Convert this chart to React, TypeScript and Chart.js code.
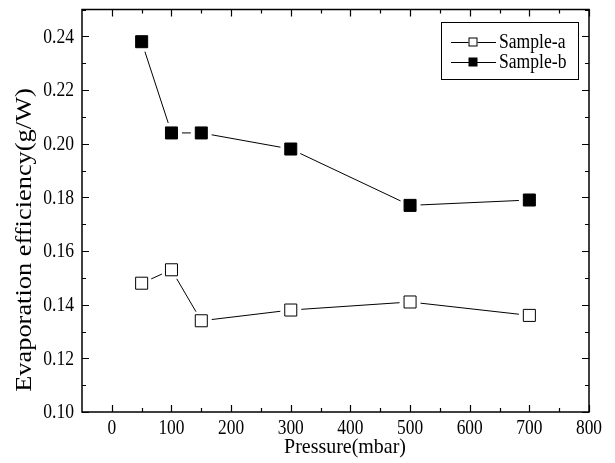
import React, { useEffect, useRef } from "react";
import { Chart, registerables } from "chart.js";

Chart.register(...registerables);

const pressures = [50, 100, 150, 300, 500, 700];
const sampleA = [0.148, 0.153, 0.134, 0.138, 0.141, 0.136];
const sampleB = [0.238, 0.204, 0.204, 0.198, 0.177, 0.179];
const seriesNames = ["Sample-a", "Sample-b"];
const xTickValues = [0, 100, 200, 300, 400, 500, 600, 700, 800];
const yTickValues = [0.1, 0.12, 0.14, 0.16, 0.18, 0.2, 0.22, 0.24];
const xTitle = "Pressure(mbar)";
const yTitle = "Evaporation efficiency(g/W)";

const FONT = "'Liberation Serif', 'Times New Roman', serif";
const MARKER_R = 8.5;

function drawScaled(ctx: any, text: string, x: number, y: number, size: number, sx: number, align: string, rot = 0) {
  ctx.save();
  ctx.translate(x, y);
  if (rot) ctx.rotate(rot);
  ctx.scale(sx, 1);
  ctx.font = `${size}px ${FONT}`;
  ctx.textAlign = align;
  ctx.textBaseline = "middle";
  ctx.fillStyle = "#000";
  ctx.fillText(text, 0, 0);
  ctx.restore();
}

const gapLinePlugin = {
  id: "gapLines",
  beforeDatasetsDraw(chart: any) {
    const ctx = chart.ctx;
    ctx.save();
    ctx.strokeStyle = "#000";
    ctx.lineWidth = 1;
    chart.data.datasets.forEach((ds: any, i: number) => {
      const pts = chart.getDatasetMeta(i).data;
      for (let k = 0; k < pts.length - 1; k++) {
        const a = pts[k], b = pts[k + 1];
        const dx = b.x - a.x, dy = b.y - a.y;
        const len = Math.hypot(dx, dy);
        const gap = 10.5;
        if (len <= 2 * gap) continue;
        const ux = dx / len, uy = dy / len;
        ctx.beginPath();
        ctx.moveTo(a.x + ux * gap, a.y + uy * gap);
        ctx.lineTo(b.x - ux * gap, b.y - uy * gap);
        ctx.stroke();
      }
    });
    ctx.restore();
  },
};

const framePlugin = {
  id: "frameTicks",
  afterDraw(chart: any) {
    const ctx = chart.ctx;
    const { left, right, top, bottom } = chart.chartArea;
    const xs = chart.scales.x, ys = chart.scales.y;
    ctx.save();
    ctx.strokeStyle = "#000";
    ctx.lineWidth = 1.5;
    ctx.strokeRect(left, top, right - left, bottom - top);
    ctx.lineWidth = 1.2;
    const major = 7, minor = 4;
    ctx.beginPath();
    for (let v = 0; v <= 800; v += 50) {
      const x = Math.round(xs.getPixelForValue(v)) + 0.5;
      const l = v % 100 === 0 ? major : minor;
      ctx.moveTo(x, bottom);
      ctx.lineTo(x, bottom - l);
      ctx.moveTo(x, top);
      ctx.lineTo(x, top + l);
    }
    for (let k = 10; k <= 25; k++) {
      const y = Math.round(ys.getPixelForValue(k / 100)) + 0.5;
      const l = k % 2 === 0 ? major : minor;
      ctx.moveTo(left, y);
      ctx.lineTo(left + l, y);
      ctx.moveTo(right, y);
      ctx.lineTo(right - l, y);
    }
    ctx.stroke();
    ctx.restore();

    // tick labels
    xTickValues.forEach((v) => {
      drawScaled(ctx, String(v), xs.getPixelForValue(v), bottom + 17, 20, 0.87, "center");
    });
    yTickValues.forEach((v) => {
      drawScaled(ctx, v.toFixed(2), left - 8, ys.getPixelForValue(v) + 1, 20, 0.88, "right");
    });
    // axis titles
    drawScaled(ctx, xTitle, 345, 447, 21, 0.95, "center");
    drawScaled(ctx, yTitle, 25, 240, 24, 1.1, "center", -Math.PI / 2);

    // legend
    ctx.save();
    const bx = 441, by = 22, bw = 137, bh = 57;
    ctx.lineWidth = 1;
    ctx.strokeStyle = "#000";
    ctx.fillStyle = "#fff";
    ctx.fillRect(bx, by, bw, bh);
    ctx.strokeRect(bx + 0.5, by + 0.5, bw, bh);
    const rows = [42, 62];
    rows.forEach((ry, i) => {
      ctx.beginPath();
      ctx.moveTo(451, ry + 0.5);
      ctx.lineTo(496, ry + 0.5);
      ctx.stroke();
      const s = 9;
      if (i === 0) {
        ctx.fillStyle = "#fff";
        ctx.fillRect(473 - s / 2, ry - s / 2, s, s);
        ctx.strokeRect(473 - s / 2 + 0.5, ry - s / 2 + 0.5, s - 1, s - 1);
      } else {
        ctx.fillStyle = "#000";
        ctx.fillRect(473 - s / 2, ry - s / 2, s, s);
      }
      drawScaled(ctx, seriesNames[i], 499, ry + 1, 20, 0.88, "left");
    });
    ctx.restore();
  },
};

export default function App() {
  const ref = useRef<HTMLCanvasElement | null>(null);
  useEffect(() => {
    if (!ref.current) return;
    const chart = new Chart(ref.current, {
      type: "scatter",
      data: {
        datasets: [
          {
            label: seriesNames[0],
            data: pressures.map((p, i) => ({ x: p, y: sampleA[i] })),
            pointStyle: "rect",
            pointRadius: MARKER_R,
            pointBackgroundColor: "#fff",
            pointBorderColor: "#000",
            pointBorderWidth: 1,
            showLine: false,
          },
          {
            label: seriesNames[1],
            data: pressures.map((p, i) => ({ x: p, y: sampleB[i] })),
            pointStyle: "rect",
            pointRadius: MARKER_R,
            pointBackgroundColor: "#000",
            pointBorderColor: "#000",
            pointBorderWidth: 1,
            showLine: false,
          },
        ],
      },
      options: {
        animation: false,
        responsive: false,
        devicePixelRatio: 1,
        layout: { padding: { top: 9, right: 26, left: 0, bottom: 0 } },
        plugins: { legend: { display: false }, tooltip: { enabled: false } },
        scales: {
          x: {
            type: "linear",
            min: -50,
            max: 800,
            afterBuildTicks: (s: any) => {
              s.ticks = xTickValues.map((v) => ({ value: v }));
            },
            afterFit: (s: any) => {
              s.height = 51;
            },
            grid: { display: false },
            border: { display: false },
            ticks: { display: false },
            title: { display: false },
          },
          y: {
            type: "linear",
            min: 0.1,
            max: 0.25,
            afterBuildTicks: (s: any) => {
              s.ticks = yTickValues.map((v) => ({ value: v }));
            },
            afterFit: (s: any) => {
              s.width = 82;
            },
            grid: { display: false },
            border: { display: false },
            ticks: { display: false },
            title: { display: false },
          },
        },
      },
      plugins: [gapLinePlugin, framePlugin],
    } as any);
    return () => chart.destroy();
  }, []);
  return (
    <div style={{ position: "fixed", left: 0, top: 0, width: 615, height: 463, background: "#fff" }}>
      <canvas ref={ref} width={615} height={463} />
    </div>
  );
}
